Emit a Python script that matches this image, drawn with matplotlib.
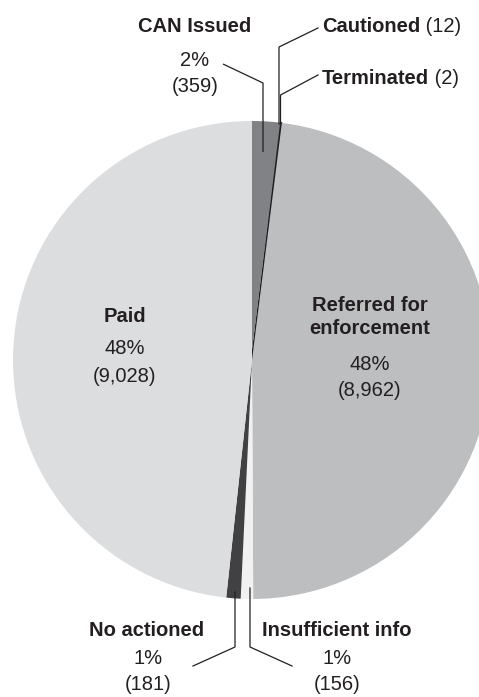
import matplotlib
matplotlib.use("Agg")
import matplotlib.pyplot as plt
from matplotlib import font_manager

# Case outcomes
categories = ["CAN Issued", "Cautioned", "Terminated", "Referred for\nenforcement",
              "Insufficient info", "No actioned", "Paid"]
counts = [359, 12, 2, 8962, 156, 181, 9028]
percent_labels = ["2%", None, None, "48%", "1%", "1%", "48%"]
count_labels = ["(359)", "(12)", "(2)", "(8,962)", "(156)", "(181)", "(9,028)"]

colors = ["#808285", "#231f20", "#231f20", "#bcbec0", "#f1f1f2", "#414042", "#dcdddf"]
ink = "#231f20"

available = {f.name for f in font_manager.fontManager.ttflist}
family = "Liberation Sans Narrow" if "Liberation Sans Narrow" in available else "Liberation Sans"
plt.rcParams["font.family"] = [family, "DejaVu Sans"]

W, H = 479, 697
fig = plt.figure(figsize=(W / 100, H / 100), dpi=100)
ax = fig.add_axes([0, 0, 1, 1])


def Y(y):
    # page y (from top) to axis y
    return H - y


cx, cy, R = 252, Y(360), 239
wedges, _ = ax.pie(counts, colors=colors, startangle=90, counterclock=False,
                   center=(cx, cy), radius=R, frame=True,
                   wedgeprops=dict(linewidth=0))
# keep the very thin slices visible
for i in (1, 2):
    wedges[i].set_edgecolor(colors[i])
    wedges[i].set_linewidth(0.9)
ax.set_xlim(0, W)
ax.set_ylim(0, H)
ax.axis("off")

FS = 14.5
lw = 0.9

# Inside labels
ax.text(125, Y(317), "Paid", ha="center", va="center", fontsize=FS, weight="bold", color=ink)
ax.text(125, Y(349), percent_labels[6], ha="center", va="center", fontsize=FS, color=ink)
ax.text(125, Y(377), count_labels[6], ha="center", va="center", fontsize=FS, color=ink)

ax.text(370, Y(317), categories[3], ha="center", va="center", fontsize=FS, weight="bold",
        color=ink, linespacing=1.25)
ax.text(370, Y(364), percent_labels[3], ha="center", va="center", fontsize=FS, color=ink)
ax.text(370, Y(390), count_labels[3], ha="center", va="center", fontsize=FS, color=ink)

# Top labels
ax.text(195, Y(27), categories[0], ha="center", va="center", fontsize=FS, weight="bold", color=ink)
ax.text(195, Y(61), percent_labels[0], ha="center", va="center", fontsize=FS, color=ink)
ax.text(195, Y(86), count_labels[0], ha="center", va="center", fontsize=FS, color=ink)
ax.plot([263, 263, 223], [Y(152), Y(83), Y(64)], color=ink, lw=lw, solid_capstyle="butt")

fig.canvas.draw()
renderer = fig.canvas.get_renderer()


def name_and_count(x, y, name, count):
    t = ax.text(x, y, name, ha="left", va="center", fontsize=FS, weight="bold", color=ink)
    bb = t.get_window_extent(renderer)
    x1 = ax.transData.inverted().transform((bb.x1, bb.y0))[0]
    ax.text(x1, y, " " + count, ha="left", va="center", fontsize=FS, color=ink)


name_and_count(322, Y(27), categories[1], count_labels[1])
name_and_count(322, Y(78), categories[2], count_labels[2])
ax.plot([279, 279, 318], [Y(124), Y(47), Y(28)], color=ink, lw=lw)
ax.plot([280.5, 280.5, 318], [Y(124), Y(95), Y(75)], color=ink, lw=lw)

# Bottom labels
ax.text(147, Y(630), categories[5], ha="center", va="center", fontsize=FS, weight="bold", color=ink)
ax.text(148, Y(659), percent_labels[5], ha="center", va="center", fontsize=FS, color=ink)
ax.text(148, Y(685), count_labels[5], ha="center", va="center", fontsize=FS, color=ink)
ax.plot([235, 235, 193], [Y(592), Y(647), Y(666)], color=ink, lw=lw)

ax.text(337, Y(630), categories[4], ha="center", va="center", fontsize=FS, weight="bold", color=ink)
ax.text(337, Y(659), percent_labels[4], ha="center", va="center", fontsize=FS, color=ink)
ax.text(337, Y(685), count_labels[4], ha="center", va="center", fontsize=FS, color=ink)
ax.plot([250, 250, 292], [Y(588), Y(647), Y(666)], color=ink, lw=lw)

fig.savefig("out.png", dpi=100, facecolor="white")
